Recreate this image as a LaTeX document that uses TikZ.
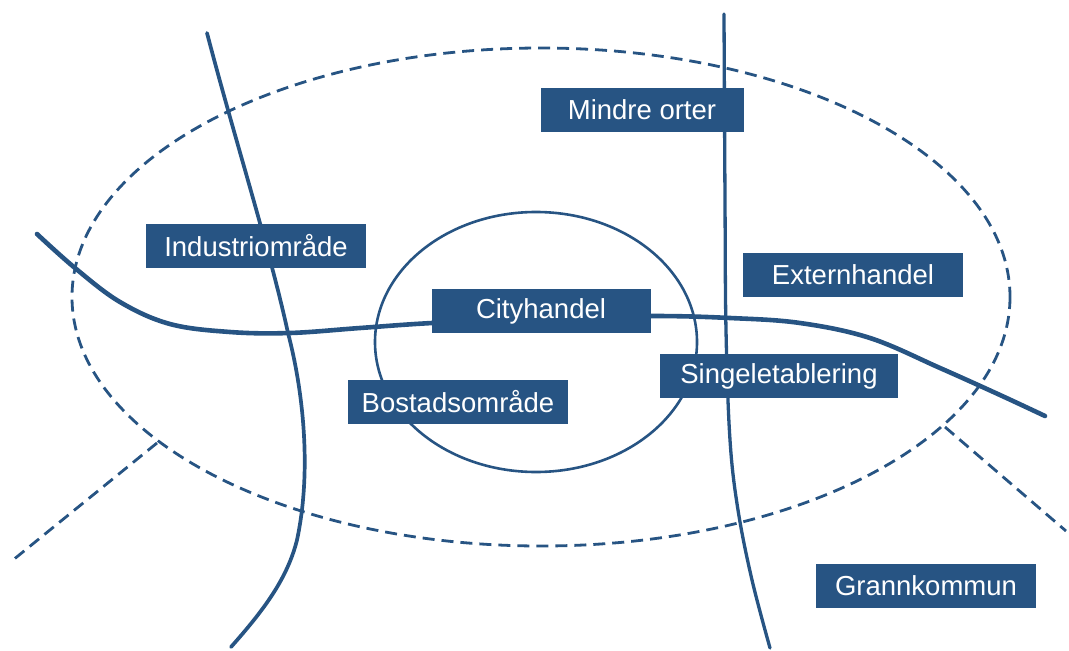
\documentclass[tikz,border=0pt]{standalone}
\usepackage{fontspec}
\setsansfont{Liberation Sans}
\definecolor{mapblue}{RGB}{39,84,131}

\begin{document}
\begin{tikzpicture}[
  x=1pt, y=-1pt,
  road/.style={draw=mapblue, line width=3.7pt, line cap=round},
  bigroad/.style={draw=mapblue, line width=4.6pt, line cap=round},
  sideroad/.style={draw=mapblue, line width=3.3pt, line cap=round},
  zone/.style={draw=mapblue, line width=2.6pt},
  border/.style={draw=mapblue, line width=2.8pt, dash pattern=on 12pt off 7pt},
  area/.style={fill=mapblue, text=white, inner sep=0pt, minimum height=44pt,
    minimum width=#1, font=\sffamily\fontsize{27.5}{30}\selectfont}]

  \useasboundingbox (0,0) rectangle (1069,651);

  % --- municipality border and the city centre ---
  \draw[border] (541,297) ellipse [x radius=469, y radius=249];
  \draw[zone] (536,342) ellipse [x radius=161, y radius=130];

  % --- dashed borders out to the neighbour municipalities ---
  \coordinate (bl) at (157,443);
  \coordinate (bl end) at (13,560);
  \coordinate (br) at (945,427);
  \coordinate (br end) at (1066,531);
  \draw[border] (bl) -- (bl end);
  \draw[border] (br) -- (br end);

  % --- roads ---
  \draw[road] (207,33) .. controls (235,140) and (270,250) .. (288,333)
    .. controls (303,390) and (312,470) .. (297,540)
    .. controls (287,580) and (262,612) .. (231,647);
  \draw[sideroad] plot[smooth, tension=0.6] coordinates {(724,14) (725,200)
    (726,330) (730,440) (738,510) (752,580) (770,648)};
  \draw[bigroad] plot[smooth, tension=0.6] coordinates {(37,234) (75,268)
    (120,302) (170,324) (230,332) (290,333) (360,328) (432,323) (541,318)
    (652,316) (730,318) (800,323) (870,338) (940,368) (1000,395) (1045,416)};

  % --- labelled areas ---
  \node[area=203pt] (mindre) at (642,110) {Mindre orter};
  \node[area=220pt] (industri) at (256,246) {Industriområde};
  \node[area=220pt] (extern) at (853,275) {Externhandel};
  \node[area=219pt] (city) at (541,311) {Cityhandel};
  \node[area=238pt] (single) at (779,376) {Singeletablering};
  \node[area=220pt] (bostad) at (458,402) {Bostadsområde};
  \node[area=220pt] (grann) at (926,586) {Grannkommun};

\end{tikzpicture}
\end{document}
